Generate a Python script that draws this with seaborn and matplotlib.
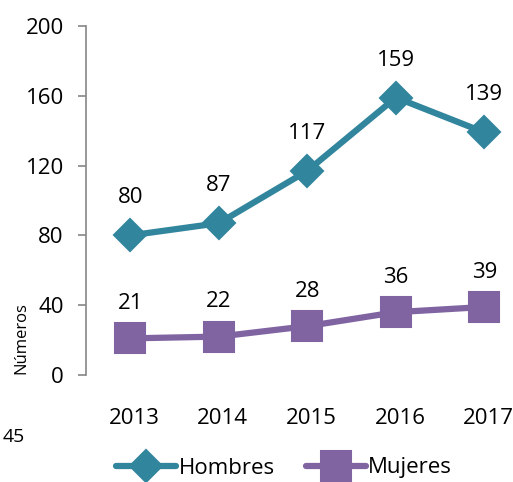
import numpy as np
import pandas as pd
import matplotlib
matplotlib.use("Agg")
import matplotlib.pyplot as plt
import matplotlib.transforms as mtransforms
import seaborn as sns

# data
years = ["2013", "2014", "2015", "2016", "2017"]
hombres = [80, 87, 117, 159, 139]
mujeres = [21, 22, 28, 36, 39]
yticks = [0, 40, 80, 120, 160, 200]

teal = "#31859C"
purple = "#8064A2"

sns.set_style("white")
plt.rcParams['font.family'] = ['Open Sans', 'DejaVu Sans']
plt.rcParams['text.color'] = 'black'
plt.rcParams['xtick.color'] = 'black'
plt.rcParams['ytick.color'] = 'black'

fig = plt.figure(figsize=(5.13, 4.82), dpi=100)
ax = fig.add_axes([86/513, 107/482, 1 - 86/513, 349/482])

df = pd.DataFrame({
    "year": years * 2,
    "value": hombres + mujeres,
    "sexo": ["Hombres"] * 5 + ["Mujeres"] * 5,
})

sns.lineplot(data=df[df.sexo == "Hombres"], x="year", y="value", ax=ax,
             color=teal, lw=4.5, marker="D", markersize=16, sort=False,
             label="Hombres")
sns.lineplot(data=df[df.sexo == "Mujeres"], x="year", y="value", ax=ax,
             color=purple, lw=4.5, marker="s", markersize=21, sort=False,
             label="Mujeres")
for ln in ax.lines:
    ln.set_markeredgecolor(ln.get_color())
    ln.set_markeredgewidth(1.5)
    ln.set_solid_joinstyle("round")
    ln.set_solid_capstyle("round")

# value labels
for i, v in enumerate(hombres):
    ax.annotate(str(v), (i, v), xytext=(0, 27), textcoords="offset points",
                ha="center", va="center", fontsize=16, color="black")
for i, v in enumerate(mujeres):
    ax.annotate(str(v), (i, v), xytext=(0, 25), textcoords="offset points",
                ha="center", va="center", fontsize=16, color="black")

ax.set_ylim(0, 200)
ax.set_xlim(-0.5, (513 - 130) / 88.6)
ax.set_yticks(yticks)
ax.tick_params(axis="y", left=True, length=6, width=1.2, color="#868686",
               labelcolor="black", labelsize=16, pad=10)
ax.tick_params(axis="x", bottom=False, labelcolor="black", labelsize=16, pad=20)
# year labels sit a little right of the points in the original
shift = mtransforms.ScaledTranslation(4/100, 0, fig.dpi_scale_trans)
for lab in ax.get_xticklabels():
    lab.set_transform(lab.get_transform() + shift)
for s in ["top", "right", "bottom"]:
    ax.spines[s].set_visible(False)
ax.spines["left"].set_color("#868686")
ax.spines["left"].set_linewidth(1.2)
ax.set_xlabel("")
ax.set_ylabel("")

ax.get_legend().remove()
h, l = ax.get_legend_handles_labels()
fig.legend(h, l, loc="center", bbox_to_anchor=(284/513, 1 - 468/482), ncol=2,
           frameon=False, fontsize=16, handlelength=2.7, handletextpad=0.1,
           columnspacing=1.4, borderpad=0)

fig.text(21/513, 1 - 338/482, "Números", rotation=90, ha="center",
         va="center", fontsize=12)
fig.text(3/513, 1 - 437/482, "45", ha="left", va="center", fontsize=14)

fig.savefig("out.png", dpi=100)
